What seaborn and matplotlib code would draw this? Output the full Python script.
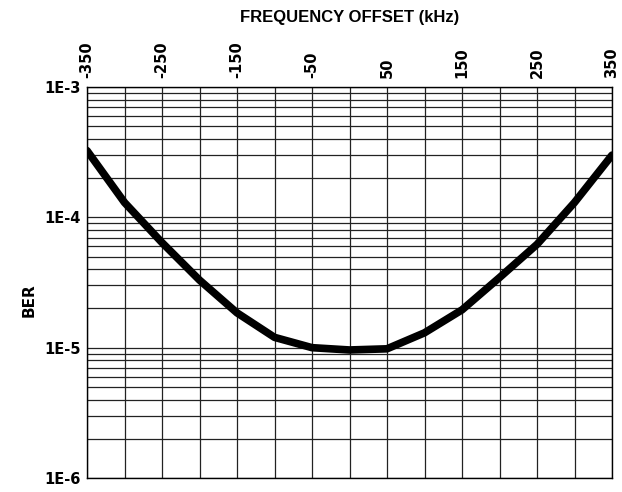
import numpy as np
import pandas as pd
import matplotlib
matplotlib.use("Agg")
import matplotlib.pyplot as plt
import seaborn as sns
from matplotlib.ticker import LogLocator, NullFormatter, FixedLocator

freq_offset_khz = [-350, -300, -250, -200, -150, -100, -50, 0, 50, 100, 150, 200, 250, 300, 350]
ber = [3.25e-4, 1.3e-4, 6.4e-5, 3.3e-5, 1.85e-5, 1.2e-5, 1.0e-5, 9.6e-6, 9.8e-6,
       1.3e-5, 1.95e-5, 3.45e-5, 6.2e-5, 1.3e-4, 3.0e-4]
x_tick_values = [-350, -250, -150, -50, 50, 150, 250, 350]
x_tick_labels = ["-350", "-250", "-150", "-50", "50", "150", "250", "350"]
y_tick_values = [1e-6, 1e-5, 1e-4, 1e-3]
y_tick_labels = ["1E-6", "1E-5", "1E-4", "1E-3"]

df = pd.DataFrame({"offset": freq_offset_khz, "ber": ber})

sns.set_style("white")
plt.rcParams['font.family'] = ['DejaVu Sans']
plt.rcParams['text.color'] = 'black'
plt.rcParams['axes.labelcolor'] = 'black'
plt.rcParams['xtick.color'] = 'black'
plt.rcParams['ytick.color'] = 'black'

fig = plt.figure(figsize=(6.22, 4.92), dpi=100)
ax = fig.add_axes([87/622, 1 - 478/492, (612-87)/622, (478-87)/492])

ax.set_yscale("log")
ax.set_xlim(-350, 350)
ax.set_ylim(1e-6, 1e-3)

# grid
ax.xaxis.set_major_locator(FixedLocator(x_tick_values))
ax.xaxis.set_minor_locator(FixedLocator(list(range(-350, 351, 50))))
ax.yaxis.set_major_locator(FixedLocator(y_tick_values))
ax.yaxis.set_minor_locator(LogLocator(base=10, subs=np.arange(2, 10), numticks=20))
ax.yaxis.set_minor_formatter(NullFormatter())
ax.grid(True, which="both", axis="both", color="#222222", linewidth=0.9)
ax.set_axisbelow(True)

sns.lineplot(data=df, x="offset", y="ber", ax=ax, color="black", linewidth=5.5,
             solid_capstyle="round", solid_joinstyle="round", zorder=5)

ax.xaxis.tick_top()
ax.xaxis.set_label_position("top")
ax.set_xticks(x_tick_values)
ax.set_xticklabels(x_tick_labels, rotation=90, fontsize=10.5, fontweight="bold")
ax.set_yticks(y_tick_values)
ax.set_yticklabels(y_tick_labels, fontsize=10.5, fontweight="bold")
ax.tick_params(axis="x", which="both", length=0, pad=6.5)
ax.tick_params(axis="y", which="both", length=0, pad=4.5)

ax.set_xlabel("FREQUENCY OFFSET (kHz)", fontsize=12, fontweight="bold",
              family="Liberation Sans", labelpad=14)
ax.set_ylabel("BER", fontsize=11, fontweight="bold")
ax.yaxis.set_label_coords((37 - 87) / 525, (478 - 300) / 391)

for s in ax.spines.values():
    s.set_color("black")
    s.set_linewidth(1.0)
    s.set_visible(True)

fig.savefig("out.png", dpi=100)
